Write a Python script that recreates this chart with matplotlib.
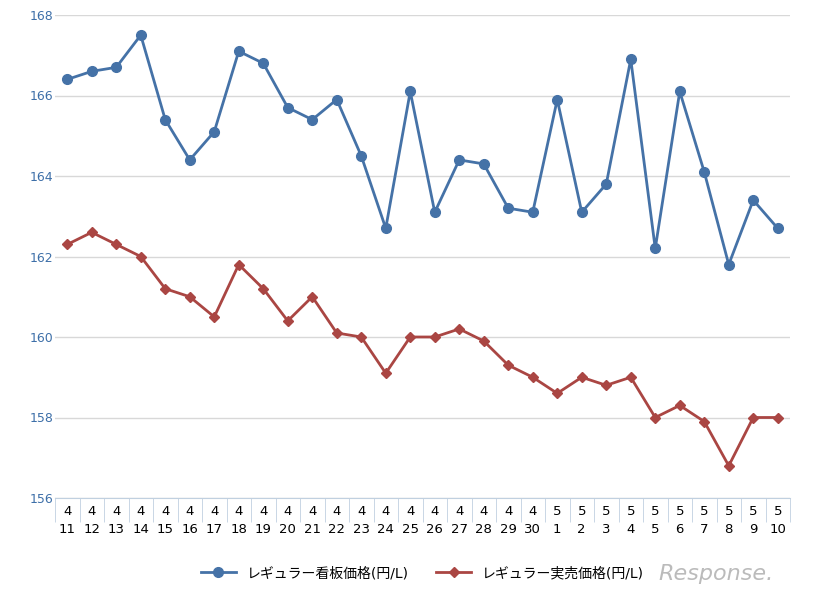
import matplotlib
matplotlib.use("Agg")
import matplotlib.pyplot as plt
import numpy as np

months = ["4"]*20 + ["5"]*10
days = [11,12,13,14,15,16,17,18,19,20,21,22,23,24,25,26,27,28,29,30,1,2,3,4,5,6,7,8,9,10]
signboard = [166.4,166.6,166.7,167.5,165.4,164.4,165.1,167.1,166.8,165.7,165.4,165.9,164.5,162.7,166.1,
             163.1,164.4,164.3,163.2,163.1,165.9,163.1,163.8,166.9,162.2,166.1,164.1,161.8,163.4,162.7]
actual = [162.3,162.6,162.3,162.0,161.2,161.0,160.5,161.8,161.2,160.4,161.0,160.1,160.0,159.1,160.0,
          160.0,160.2,159.9,159.3,159.0,158.6,159.0,158.8,159.0,158.0,158.3,157.9,156.8,158.0,158.0]
yticks = [156,158,160,162,164,166,168]

plt.rcParams["font.family"] = ["DejaVu Sans", "Noto Sans CJK JP"]
fig = plt.figure(figsize=(8.32, 6.01), dpi=100)
ax = fig.add_axes([55/832, 1-498/601, 735/832, 483/601])
x = np.arange(len(days))
blue = "#4572a7"; red = "#aa4643"
ax.plot(x, signboard, color=blue, lw=2, marker="o", ms=7, label="レギュラー看板価格(円/L)")
ax.plot(x, actual, color=red, lw=2, marker="D", ms=5, label="レギュラー実売価格(円/L)")
ax.set_xlim(-0.5, len(days)-0.5)
ax.set_ylim(156, 168)
ax.set_yticks(yticks)
ax.yaxis.grid(True, color="#d8d8d8", lw=1)
ax.set_axisbelow(True)
for s in ["top", "right", "left"]:
    ax.spines[s].set_visible(False)
ax.spines["bottom"].set_color("#c0d0e0")
ax.tick_params(axis="y", length=0, labelsize=9, labelcolor="#3d6fa8", pad=18)
ax.set_xticks(x)
ax.set_xticklabels([f"{m}\n{d}" for m, d in zip(months, days)], fontsize=9.5, linespacing=1.5)
ax.set_xticks(np.arange(-0.5, len(days), 1), minor=True)
ax.tick_params(axis="x", which="major", length=0, pad=5)
ax.tick_params(axis="x", which="minor", length=17, color="#c0d0e0")
for lbl in ax.get_yticklabels():
    lbl.set_horizontalalignment("left")
ax.legend(loc="upper center", bbox_to_anchor=(0.5, -0.115), ncol=2, frameon=False, fontsize=10, handlelength=2.5, columnspacing=2)
fig.text(0.93, 0.035, "Response.", fontsize=16, color="#bbbbbb", ha="right", style="italic")
fig.savefig("out.png", dpi=100)
